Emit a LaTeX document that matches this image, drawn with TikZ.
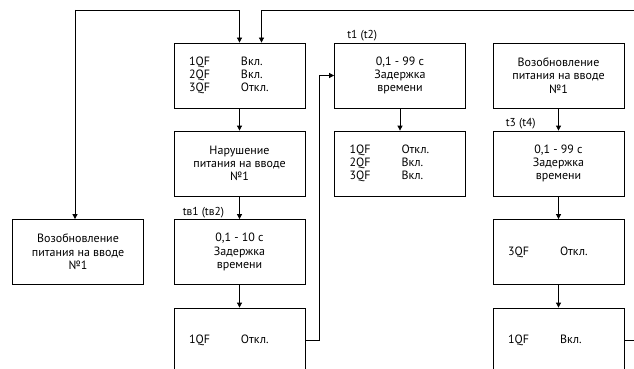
\documentclass[tikz,border=0pt]{standalone}
\usepackage{fontspec}
\setmainfont{PT Sans}
\usetikzlibrary{arrows.meta}

\newcommand{\qf}[2]{\makebox[52pt][l]{#1}#2}

\tikzset{
  blok/.style={draw, line width=0.8pt, minimum width=131pt, minimum height=65pt,
    inner sep=0pt, align=center, font=\fontsize{12}{13.3}\selectfont},
  qfblok/.style={blok, align=left, text width=101pt},
  tmark/.style={anchor=south west, inner sep=1pt, font=\fontsize{11.5}{12}\selectfont},
  link/.style={line width=0.8pt, -{Triangle[length=5pt,width=5pt]}}
}

\begin{document}
\begin{tikzpicture}[x=1pt,y=-1pt]
		\useasboundingbox (0,0) rectangle (634,369);
		\clip (0,0) rectangle (634,369);

		% left column
		\node[blok] (vozobA) at (78,252) {Возобновление\\питания на вводе\\№1};

		% first main column
		\node[qfblok] (state1) at (239.5,75.5) {\qf{1QF}{Вкл.}\\\qf{2QF}{Вкл.}\\\qf{3QF}{Откл.}};
		\node[blok] (fail1) at (239.5,163.5) {Нарушение\\питания на вводе\\№1};
		\node[blok] (delayB) at (239.5,252) {0,1 - 10 с\\Задержка\\времени};
		\node[qfblok] (off1) at (239.5,340.5) {\qf{1QF}{Откл.}};
		\node[tmark] at ([xshift=8pt]delayB.north west) {tв1 (tв2)};

		% second column
		\node[blok] (delayT) at (400,75.5) {0,1 - 99 с\\Задержка\\времени};
		\node[qfblok] (state2) at (400,163.5) {\qf{1QF}{Откл.}\\\qf{2QF}{Вкл.}\\\qf{3QF}{Вкл.}};
		\node[tmark] at ([xshift=12pt]delayT.north west) {t1 (t2)};

		% right column
		\node[blok] (vozobR) at (558.5,75.5) {Возобновление\\питания на вводе\\№1};
		\node[blok] (delayR) at (558.5,163.5) {0,1 - 99 с\\Задержка\\времени};
		\node[qfblok] (off3) at (558.5,252) {\qf{3QF}{Откл.}};
		\node[qfblok] (on1) at (558.5,340.5) {\qf{1QF}{Вкл.}};
		\node[tmark] at ([xshift=12pt]delayR.north west) {t3 (t4)};

		% connectors
		\coordinate (topL) at (75,10);
		\coordinate (topR) at (640,10);
		\draw[link] (topL) -- ([xshift=-3pt]vozobA.north);
		\draw[link] (topL) -| (state1.north);
		\draw[link] (topR) -| ([xshift=22pt]state1.north);
		\draw[link] (state1) -- (fail1);
		\draw[link] (fail1) -- (delayB);
		\draw[link] (delayB) -- (off1);
		\draw[link] (off1.east) -- ++(14,0) |- (delayT.west);
		\draw[link] (delayT) -- (state2);
		\draw[link] (vozobR) -- (delayR);
		\draw[link] (delayR) -- (off3);
		\draw[link] (off3) -- (on1);
		\draw[line width=0.8pt] (on1.east) -- ++(20,0);
\end{tikzpicture}
\end{document}
